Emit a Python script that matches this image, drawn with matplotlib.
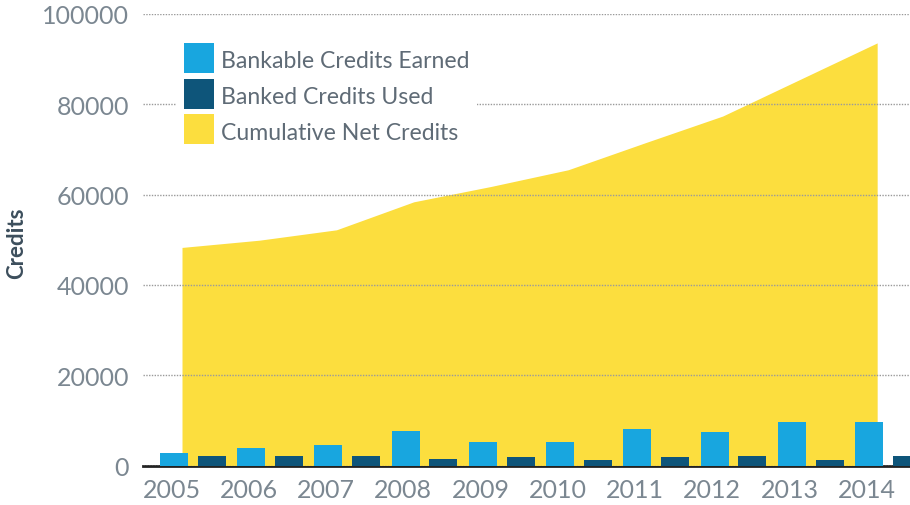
import numpy as np
import matplotlib
matplotlib.use("Agg")
import matplotlib.pyplot as plt
from matplotlib.patches import Rectangle

plt.rcParams['font.family'] = ['Lato', 'DejaVu Sans']

years = ['2005', '2006', '2007', '2008', '2009', '2010', '2011', '2012', '2013', '2014']
earned = [2700, 3800, 4600, 7700, 5100, 5100, 8000, 7500, 9700, 9700]
used = [2000, 2200, 2200, 1500, 1800, 1300, 1800, 2000, 1300, 2000]
cumulative = [48300, 49900, 52200, 58400, 61800, 65500, 71500, 77400, 85500, 93600]
labels = ['Bankable Credits Earned', 'Banked Credits Used', 'Cumulative Net Credits']

c_earned = '#18a6df'
c_used = '#0e557a'
c_cum = '#fcde3e'
c_tick = '#7b8791'

W, H = 910, 506
fig = plt.figure(figsize=(W / 100, H / 100), dpi=100)
ax = fig.add_axes([143 / W, (H - 466.5) / H, 767 / W, 451.5 / H])

x = np.arange(len(years))
bw = 0.363

ax.axhline(0, color='#222222', lw=2, zorder=1, clip_on=False)
ax.fill_between(x + 0.105, cumulative, 0, color=c_cum, lw=0, zorder=2)
ax.bar(x, earned, width=bw, color=c_earned, zorder=4)
ax.bar(x + 0.49, used, width=bw, color=c_used, zorder=4)

ax.set_xlim(-0.40, 9.53)
ax.set_ylim(0, 100000)
ax.set_yticks(np.arange(0, 100001, 20000))
ax.set_xticks(x - 0.03)
ax.set_xticklabels(years)
ax.tick_params(length=0, labelsize=18, colors=c_tick)
ax.tick_params(axis='y', pad=10)
ax.tick_params(axis='x', pad=9)

ax.grid(axis='y', color='#9a9a9a', linestyle=(0, (1, 1)), lw=1, zorder=3)
ax.set_axisbelow(False)
for s in ax.spines.values():
    s.set_visible(False)

fig.text(17 / W, 1 - 243 / H, 'Credits', rotation=90, ha='center', va='center',
         fontsize=16, fontweight='bold', color='#3c4e5c')

# legend drawn by hand in figure pixels (flipped y)
def px(xp, yp):
    return xp / W, 1 - yp / H

fig.patches.append(Rectangle(px(176, 150), 301 / W, 112 / H, transform=fig.transFigure,
                             facecolor='white', edgecolor='none', zorder=5))
for i, (lab, col) in enumerate(zip(labels, [c_earned, c_used, c_cum])):
    top = 44 + i * 35.5
    fig.patches.append(Rectangle(px(184, top + 30), 30 / W, 30 / H, transform=fig.transFigure,
                                 facecolor=col, edgecolor='none', zorder=6))
    fig.text(*px(221, top + 24.5), lab, fontsize=16.6, color='#5f6b76', va='baseline',
             ha='left', zorder=7)

fig.savefig('out.png', dpi=100)
